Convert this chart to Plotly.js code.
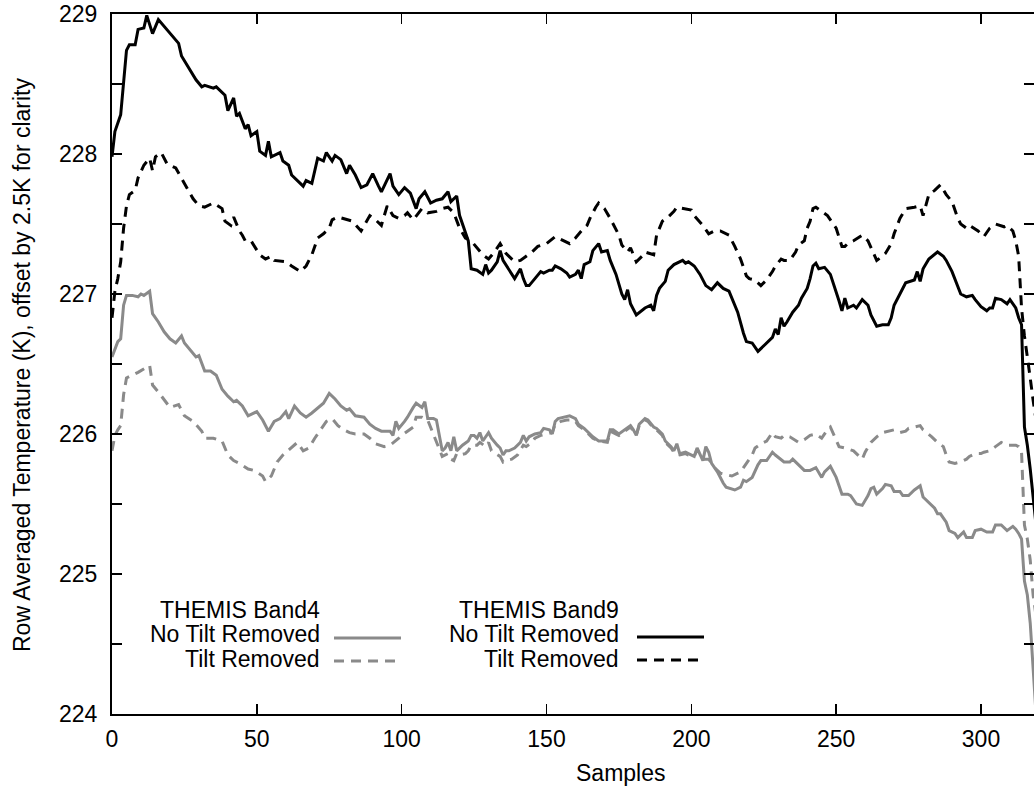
<!DOCTYPE html>
<html>
<head>
<meta charset="utf-8">
<script src="https://cdn.plot.ly/plotly-3.0.1.min.js"></script>
<style>html,body{margin:0;padding:0;background:#fff;}#chart{width:1034px;height:788px;}</style>
</head>
<body>
<div id="chart"></div>
<script>
// THEMIS Band9, no tilt removed (black solid)
const b9NoTiltX = [0,1,3,5,6,8,9,11,12,14,16,19,23,24,27,29,31,32,35,36,39,40,42,43,44,46,47,48,50,51,53,54,55,58,59,61,62,64,66,67,69,71,73,74,76,77,79,81,82,84,86,88,90,92,93,96,97,99,101,103,105,106,108,110,112,114,116,117,119,120,122,123,124,126,128,129,130,131,133,134,135,137,139,141,142,143,144,146,148,149,151,152,153,155,157,158,160,161,162,163,165,166,168,169,171,172,174,176,177,178,179,181,183,184,186,187,188,189,191,192,194,196,197,198,199,201,203,205,207,209,211,213,214,216,218,219,221,222,223,224,226,228,229,230,231,232,233,235,237,238,240,241,242,243,244,246,248,249,250,251,252,253,254,256,257,259,261,262,264,266,268,269,270,272,274,277,278,279,280,282,285,287,288,290,292,293,295,297,298,300,302,303,304,305,307,309,310,312,313,314,315,316,317,318,319];
const b9NoTiltY = [227.98,228.16,228.28,228.74,228.78,228.78,228.89,228.90,228.99,228.86,228.96,228.89,228.79,228.70,228.60,228.53,228.48,228.49,228.47,228.48,228.42,228.31,228.40,228.27,228.29,228.18,228.21,228.13,228.16,228.02,227.99,228.09,227.98,228.01,227.95,227.92,227.85,227.81,227.77,227.81,227.79,227.97,227.95,228.01,227.95,227.99,227.96,227.86,227.92,227.85,227.76,227.78,227.86,227.77,227.73,227.86,227.77,227.71,227.76,227.72,227.61,227.68,227.73,227.65,227.67,227.68,227.73,227.66,227.70,227.56,227.45,227.38,227.18,227.17,227.14,227.21,227.15,227.17,227.23,227.31,227.24,227.17,227.11,227.18,227.11,227.06,227.06,227.11,227.16,227.15,227.17,227.17,227.20,227.18,227.15,227.12,227.14,227.17,227.11,227.21,227.23,227.31,227.36,227.30,227.31,227.24,227.14,227.00,226.96,227.03,226.93,226.85,226.88,226.90,226.92,226.88,226.99,227.04,227.09,227.17,227.21,227.23,227.24,227.22,227.23,227.20,227.14,227.06,227.03,227.08,227.04,227.02,226.97,226.87,226.72,226.66,226.65,226.62,226.59,226.61,226.65,226.69,226.75,226.71,226.83,226.77,226.80,226.87,226.92,226.97,227.04,227.11,227.20,227.22,227.18,227.19,227.14,227.08,227.02,226.95,226.88,226.97,226.90,226.92,226.90,226.96,226.92,226.85,226.77,226.78,226.78,226.83,226.92,227.00,227.08,227.10,227.16,227.09,227.18,227.25,227.30,227.27,227.24,227.16,227.05,227.00,226.98,226.99,226.96,226.91,226.88,226.90,226.90,226.97,226.96,226.93,226.96,226.90,226.83,226.78,226.05,225.92,225.75,225.55,225.35];

// THEMIS Band9, tilt removed (black dashed)
const b9TiltX = [0,1,2,3,4,5,6,8,9,11,13,14,15,17,19,22,25,28,30,32,35,38,39,41,42,44,45,46,48,51,53,55,56,60,62,65,67,69,71,73,75,76,78,81,83,86,87,89,91,93,95,97,99,101,102,104,107,109,112,114,116,118,120,122,124,126,128,130,132,134,136,139,141,143,145,147,150,153,156,158,160,162,164,165,167,168,170,172,175,176,178,179,181,183,184,187,188,190,192,194,195,197,200,201,204,206,208,210,213,215,217,219,220,222,224,226,228,229,231,232,234,236,237,239,240,241,242,243,245,247,250,251,252,253,254,256,259,261,263,264,266,267,269,270,272,274,277,279,280,282,284,286,288,290,292,293,295,296,299,301,303,305,308,309,311,312,313,314,315,316,317,318,319];
const b9TiltY = [226.83,227.02,227.11,227.23,227.47,227.63,227.71,227.74,227.83,227.92,227.97,227.88,227.98,228.01,227.93,227.90,227.79,227.68,227.63,227.62,227.65,227.61,227.52,227.49,227.55,227.45,227.42,227.38,227.38,227.28,227.25,227.27,227.24,227.23,227.20,227.16,227.20,227.28,227.40,227.43,227.47,227.53,227.55,227.53,227.52,227.45,227.49,227.56,227.53,227.49,227.63,227.56,227.54,227.56,227.58,227.53,227.61,227.58,227.59,227.61,227.62,227.58,227.47,227.40,227.38,227.33,227.28,227.25,227.30,227.36,227.29,227.23,227.24,227.27,227.30,227.34,227.36,227.41,227.38,227.36,227.40,227.45,227.49,227.54,227.62,227.65,227.61,227.54,227.42,227.35,227.30,227.33,227.23,227.27,227.30,227.28,227.42,227.52,227.55,227.59,227.62,227.61,227.60,227.56,227.49,227.43,227.45,227.45,227.42,227.34,227.25,227.13,227.11,227.10,227.06,227.10,227.16,227.20,227.25,227.24,227.24,227.30,227.35,227.38,227.47,227.52,227.61,227.62,227.59,227.56,227.47,227.40,227.34,227.34,227.36,227.38,227.42,227.38,227.28,227.24,227.27,227.29,227.36,227.43,227.54,227.61,227.62,227.63,227.56,227.71,227.74,227.78,227.71,227.66,227.54,227.50,227.47,227.49,227.45,227.41,227.47,227.50,227.48,227.49,227.45,227.38,227.27,226.90,226.70,226.56,226.40,226.24,226.10];

// THEMIS Band4, no tilt removed (grey solid)
const b4NoTiltX = [0,1,2,3,4,5,7,9,10,11,13,14,16,18,20,22,24,25,27,29,30,32,34,36,38,40,42,43,45,47,50,52,54,56,58,60,61,63,65,67,69,72,73,75,77,79,81,82,84,87,89,91,93,96,97,98,99,101,102,104,105,107,108,109,111,112,113,114,115,116,117,118,119,121,123,124,125,126,127,128,130,131,133,134,135,136,137,139,141,142,143,144,146,148,149,151,152,153,154,156,158,160,161,163,165,166,168,171,172,173,175,177,179,180,181,182,184,185,187,188,190,191,193,194,195,196,198,199,201,202,203,204,205,206,207,209,211,212,215,217,218,219,221,223,224,226,228,229,232,234,235,237,239,241,243,245,246,248,250,252,254,255,257,259,261,262,263,264,266,267,269,270,272,273,275,277,279,280,282,284,285,286,288,289,291,292,294,295,297,298,300,302,304,305,307,309,311,312,313,314,315,316,317,318,319];
const b4NoTiltY = [226.55,226.61,226.66,226.68,226.92,226.99,226.99,226.98,227.00,226.99,227.02,226.86,226.80,226.73,226.68,226.65,226.70,226.65,226.60,226.55,226.56,226.45,226.45,226.42,226.32,226.27,226.23,226.24,226.20,226.13,226.16,226.10,226.02,226.09,226.11,226.16,226.11,226.20,226.15,226.12,226.15,226.20,226.22,226.29,226.25,226.20,226.17,226.18,226.13,226.12,226.07,226.04,226.02,226.02,225.99,226.09,226.04,226.09,226.12,226.19,226.22,226.19,226.23,226.11,226.11,226.10,225.99,225.88,225.90,225.94,225.88,225.98,225.88,225.92,225.95,225.99,225.99,225.97,226.01,225.95,226.01,225.97,225.92,225.90,225.85,225.88,225.88,225.90,225.94,225.99,225.95,225.98,226.00,226.01,226.04,226.03,226.00,226.09,226.11,226.12,226.13,226.11,226.07,226.04,226.00,225.98,225.95,225.95,226.03,226.03,226.00,226.03,226.06,226.03,225.99,226.07,226.11,226.10,226.05,226.04,226.00,225.95,225.91,225.88,225.93,225.86,225.87,225.86,225.84,225.90,225.86,225.81,225.91,225.87,225.79,225.73,225.65,225.62,225.60,225.62,225.67,225.66,225.69,225.78,225.81,225.81,225.87,225.85,225.80,225.80,225.82,225.78,225.74,225.74,225.76,225.69,225.73,225.77,225.69,225.57,225.57,225.56,225.50,225.49,225.56,225.61,225.62,225.57,225.61,225.64,225.63,225.59,225.59,225.56,225.56,225.60,225.63,225.55,225.51,225.47,225.43,225.43,225.37,225.31,225.29,225.26,225.30,225.26,225.26,225.31,225.32,225.30,225.30,225.35,225.35,225.31,225.34,225.32,225.29,225.25,224.95,224.85,224.65,224.30,224.00];

// THEMIS Band4, tilt removed (grey dashed)
const b4TiltX = [0,1,2,3,4,5,7,9,13,14,16,19,20,23,25,28,31,32,35,38,40,42,44,47,49,52,53,55,57,59,62,64,66,68,70,72,74,76,78,80,82,84,87,89,91,94,96,99,100,102,104,105,107,109,110,112,113,114,116,117,118,119,120,122,123,124,126,127,129,130,131,134,135,136,138,140,142,143,145,146,148,150,152,153,155,157,159,160,161,163,165,166,168,171,172,175,177,179,181,182,184,185,187,188,190,191,193,194,196,198,199,201,202,203,204,206,208,210,212,214,217,219,221,222,224,226,228,229,231,232,234,237,239,241,243,245,247,248,250,251,253,256,259,260,262,264,266,268,270,272,274,275,277,279,280,282,283,285,287,288,289,291,293,295,296,298,300,301,303,305,307,309,311,312,313,314,315,316,317,318,319];
const b4TiltY = [225.88,225.99,226.03,226.06,226.28,226.40,226.42,226.44,226.49,226.35,226.30,226.22,226.19,226.21,226.13,226.09,226.02,225.97,225.97,225.95,225.85,225.81,225.79,225.75,225.74,225.70,225.66,225.70,225.80,225.85,225.90,225.94,225.88,225.90,225.97,226.03,226.09,226.11,226.06,226.03,226.01,226.00,226.00,225.97,225.93,225.91,225.92,225.97,225.99,226.02,226.05,226.12,226.12,226.10,226.05,225.94,225.89,225.84,225.86,225.82,225.81,225.86,225.85,225.86,225.88,225.92,225.92,225.94,225.91,225.94,225.88,225.84,225.80,225.81,225.82,225.85,225.92,225.91,225.94,225.97,225.99,226.00,226.01,226.07,226.09,226.10,226.10,226.09,226.06,226.03,225.99,225.97,225.95,225.94,226.02,225.99,226.02,226.05,225.99,226.06,226.10,226.09,226.04,226.03,225.99,225.94,225.90,225.87,225.85,225.86,225.85,225.84,225.89,225.85,225.82,225.82,225.76,225.72,225.71,225.70,225.73,225.79,225.85,225.90,225.93,225.95,226.01,225.98,225.97,225.99,225.98,225.94,225.96,225.99,226.00,225.97,226.03,226.05,225.95,225.91,225.90,225.88,225.82,225.87,225.94,225.98,226.01,226.02,226.03,226.01,226.02,226.04,226.05,226.06,226.03,226.00,225.98,225.94,225.91,225.85,225.80,225.79,225.80,225.82,225.84,225.86,225.86,225.87,225.88,225.91,225.94,225.92,225.92,225.92,225.91,225.87,225.35,225.25,225.10,224.85,224.70];

const yTickVals = [224,224.5,225,225.5,226,226.5,227,227.5,228,228.5,229];
const yTickText = ['224','','225','','226','','227','','228','','229'];
const xTickVals = [0,50,100,150,200,250,300];

const GREY = '#8a8a8a';
const FONT = '"Liberation Sans", Arial, Helvetica, sans-serif';
const FS = 23;
const DASH = '10px,7px';

const traces = [
  {x: b9TiltX, y: b9TiltY, mode: 'lines', line: {color: '#000', width: 3, dash: DASH}, showlegend: false},
  {x: b9NoTiltX, y: b9NoTiltY, mode: 'lines', line: {color: '#000', width: 3}, showlegend: false},
  {x: b4TiltX, y: b4TiltY, mode: 'lines', line: {color: GREY, width: 3, dash: DASH}, showlegend: false},
  {x: b4NoTiltX, y: b4NoTiltY, mode: 'lines', line: {color: GREY, width: 3}, showlegend: false}
];

const W = 1034, H = 788, L = 112, R = 0, T = 14, B = 74;
const pw = W - L - R, ph = H - T - B;
const px = v => (v - L) / pw;
const py = v => (H - B - v) / ph;

function txt(s, x, y, anchor) {
  return {text: s, xref: 'paper', yref: 'paper', x: px(x), y: py(y), xanchor: anchor, yanchor: 'middle',
          height: 22, valign: 'middle', borderpad: 0,
          showarrow: false, font: {family: FONT, size: FS, color: '#000'}};
}

const layout = {
  width: W, height: H,
  margin: {l: L, r: R, t: T, b: B, pad: 0},
  paper_bgcolor: '#fff', plot_bgcolor: '#fff',
  font: {family: FONT, size: FS, color: '#000'},
  showlegend: false,
  xaxis: {
    range: [0, 318.3], tickvals: xTickVals, ticks: 'inside', ticklen: 10, tickwidth: 1.5, tickcolor: '#000',
    showline: true, linecolor: '#000', linewidth: 2, mirror: 'ticks', showgrid: false, zeroline: false,
    tickfont: {family: FONT, size: FS}, ticklabelstandoff: 3
  },
  yaxis: {
    range: [224, 229], tickvals: yTickVals, ticktext: yTickText, ticks: 'inside', ticklen: 10, tickwidth: 1.5, tickcolor: '#000',
    showline: true, linecolor: '#000', linewidth: 2, mirror: 'ticks', showgrid: false, zeroline: false,
    tickfont: {family: FONT, size: FS}, ticklabelstandoff: 8
  },
  annotations: [
    {text: 'Samples', xref: 'paper', yref: 'paper', x: px(620), y: py(773), xanchor: 'center', yanchor: 'middle',
     showarrow: false, font: {family: FONT, size: FS}},
    {text: 'Row Averaged Temperature (K), offset by 2.5K for clarity', xref: 'paper', yref: 'paper',
     x: px(22), y: py(365), xanchor: 'center', yanchor: 'middle', textangle: -90, showarrow: false,
     font: {family: FONT, size: FS}},
    txt('THEMIS Band4', 321, 610, 'right'),
    txt('No Tilt Removed', 321, 634, 'right'),
    txt('Tilt Removed', 321, 659, 'right'),
    txt('THEMIS Band9', 620, 610, 'right'),
    txt('No Tilt Removed', 620, 634, 'right'),
    txt('Tilt Removed', 620, 659, 'right')
  ],
  shapes: [
    {type: 'line', xref: 'paper', yref: 'paper', x0: px(334), x1: px(401), y0: py(638), y1: py(638), line: {color: GREY, width: 3}},
    {type: 'line', xref: 'paper', yref: 'paper', x0: px(334), x1: px(401), y0: py(661), y1: py(661), line: {color: GREY, width: 3, dash: DASH}},
    {type: 'line', xref: 'paper', yref: 'paper', x0: px(637), x1: px(704), y0: py(637), y1: py(637), line: {color: '#000', width: 3}},
    {type: 'line', xref: 'paper', yref: 'paper', x0: px(637), x1: px(704), y0: py(660), y1: py(660), line: {color: '#000', width: 3, dash: DASH}}
  ]
};

Plotly.newPlot('chart', traces, layout, {displayModeBar: false, staticPlot: true});
</script>
</body>
</html>
